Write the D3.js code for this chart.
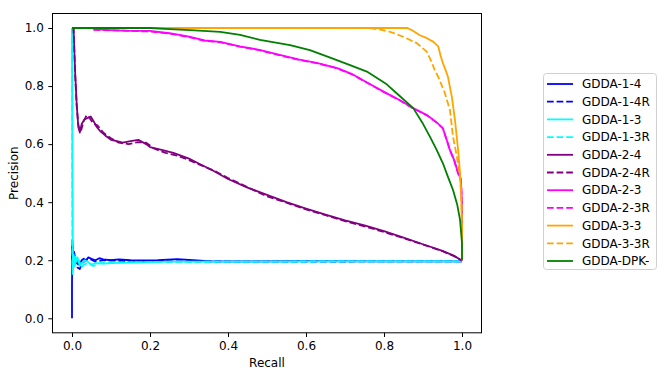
<!DOCTYPE html>
<html>
<head>
<meta charset="utf-8">
<script src="https://cdn.jsdelivr.net/npm/d3@7"></script>
<style>
  body { margin: 0; background: #fff; }
  svg { font-family: "DejaVu Sans", sans-serif; }
</style>
</head>
<body>
<div id="chart"></div>
<script>
// Series data: [recall, precision]
const gdda14 = [[0,0],[0,0.12],[0.001,0.27],[0.003,0.2],[0.005,0.23],[0.008,0.21],[0.012,0.2],[0.016,0.185],[0.02,0.19],[0.025,0.2],[0.03,0.205],[0.036,0.2],[0.042,0.21],[0.05,0.205],[0.06,0.2],[0.07,0.207],[0.08,0.203],[0.1,0.2],[0.12,0.203],[0.15,0.2],[0.18,0.199],[0.22,0.2],[0.27,0.204],[0.32,0.199],[0.36,0.196],[0.45,0.196],[0.6,0.197],[0.8,0.196],[1.0,0.196]];
const gdda14R = [[0,0.2],[0.001,0.25],[0.004,0.18],[0.008,0.2],[0.014,0.175],[0.02,0.17],[0.026,0.19],[0.035,0.2],[0.045,0.205],[0.06,0.195],[0.08,0.2],[0.12,0.198],[0.2,0.197],[0.3,0.196],[0.5,0.195],[0.8,0.196],[1.0,0.196]];
const gdda13 = [[0,1.0],[0.001,0.5],[0.002,0.17],[0.004,0.22],[0.007,0.18],[0.01,0.2],[0.014,0.21],[0.02,0.18],[0.026,0.19],[0.032,0.2],[0.04,0.195],[0.05,0.185],[0.06,0.19],[0.08,0.188],[0.1,0.19],[0.15,0.192],[0.25,0.195],[0.4,0.195],[0.7,0.196],[1.0,0.196]];
const gdda13R = [[0,1.0],[0.001,0.3],[0.002,0.15],[0.004,0.2],[0.008,0.22],[0.012,0.19],[0.018,0.2],[0.024,0.175],[0.03,0.185],[0.04,0.19],[0.055,0.18],[0.07,0.19],[0.1,0.192],[0.2,0.194],[0.4,0.195],[0.7,0.196],[1.0,0.196]];
const gdda24 = [[0,1.0],[0.004,1.0],[0.008,0.85],[0.012,0.74],[0.016,0.66],[0.02,0.64],[0.025,0.67],[0.032,0.685],[0.04,0.69],[0.048,0.695],[0.055,0.68],[0.063,0.66],[0.072,0.645],[0.085,0.63],[0.1,0.615],[0.115,0.61],[0.13,0.605],[0.15,0.61],[0.17,0.615],[0.19,0.6],[0.2,0.59],[0.23,0.58],[0.26,0.57],[0.3,0.55],[0.33,0.53],[0.36,0.51],[0.4,0.48],[0.45,0.45],[0.5,0.425],[0.55,0.4],[0.6,0.378],[0.65,0.357],[0.7,0.337],[0.75,0.32],[0.8,0.3],[0.85,0.278],[0.9,0.255],[0.95,0.232],[0.98,0.215],[1.0,0.198]];
const gdda24R = [[0,1.0],[0.004,1.0],[0.008,0.84],[0.012,0.73],[0.016,0.67],[0.02,0.645],[0.024,0.65],[0.03,0.68],[0.038,0.7],[0.045,0.69],[0.055,0.67],[0.065,0.665],[0.08,0.64],[0.1,0.62],[0.12,0.605],[0.145,0.6],[0.17,0.607],[0.19,0.605],[0.21,0.585],[0.24,0.57],[0.27,0.56],[0.3,0.545],[0.34,0.522],[0.37,0.505],[0.4,0.483],[0.45,0.452],[0.5,0.42],[0.55,0.398],[0.6,0.375],[0.65,0.355],[0.7,0.335],[0.75,0.317],[0.8,0.297],[0.85,0.276],[0.9,0.254],[0.95,0.231],[0.98,0.214],[1.0,0.198]];
const gdda23 = [[0.055,0.995],[0.1,0.993],[0.15,0.99],[0.2,0.99],[0.25,0.982],[0.3,0.97],[0.34,0.957],[0.38,0.952],[0.43,0.937],[0.48,0.925],[0.53,0.908],[0.58,0.892],[0.63,0.879],[0.68,0.862],[0.72,0.84],[0.76,0.81],[0.8,0.78],[0.84,0.752],[0.875,0.724],[0.91,0.7],[0.935,0.675],[0.951,0.655],[0.962,0.61],[0.969,0.58],[0.98,0.545],[0.99,0.5],[0.997,0.48],[1.0,0.4],[1.0,0.2]];
const gdda23R = [[0.055,0.994],[0.1,0.992],[0.15,0.99],[0.2,0.988],[0.25,0.981],[0.3,0.969],[0.34,0.956],[0.38,0.951],[0.43,0.936],[0.48,0.924],[0.53,0.907],[0.58,0.891],[0.63,0.878],[0.68,0.861],[0.72,0.839],[0.76,0.809],[0.8,0.779],[0.84,0.751],[0.875,0.723],[0.91,0.699],[0.935,0.674],[0.951,0.654],[0.962,0.609],[0.969,0.579],[0.98,0.544],[0.99,0.499],[0.997,0.479],[1.0,0.4],[1.0,0.2]];
const gdda33 = [[0,1],[0.86,1.0],[0.875,0.99],[0.892,0.975],[0.91,0.965],[0.926,0.953],[0.939,0.937],[0.945,0.905],[0.951,0.879],[0.958,0.855],[0.964,0.832],[0.97,0.79],[0.974,0.763],[0.982,0.683],[0.99,0.58],[0.995,0.5],[0.998,0.42],[1.0,0.3],[1.0,0.2]];
const gdda33R = [[0,1],[0.764,1.0],[0.797,0.993],[0.82,0.985],[0.849,0.97],[0.884,0.948],[0.91,0.918],[0.923,0.88],[0.93,0.855],[0.939,0.832],[0.956,0.776],[0.969,0.718],[0.977,0.625],[0.987,0.556],[0.995,0.487],[0.999,0.4],[1.0,0.3],[1.0,0.2]];
const gddaDPK = [[0,1],[0.2,1.0],[0.25,0.996],[0.303,0.993],[0.38,0.987],[0.431,0.976],[0.482,0.959],[0.559,0.941],[0.61,0.924],[0.662,0.898],[0.713,0.872],[0.756,0.85],[0.807,0.806],[0.841,0.765],[0.875,0.724],[0.9,0.67],[0.918,0.625],[0.935,0.58],[0.951,0.534],[0.964,0.487],[0.977,0.442],[0.988,0.39],[0.995,0.339],[1.0,0.26],[1.0,0.2]];

const seriesNames = ["GDDA-1-4","GDDA-1-4R","GDDA-1-3","GDDA-1-3R","GDDA-2-4","GDDA-2-4R","GDDA-2-3","GDDA-2-3R","GDDA-3-3","GDDA-3-3R","GDDA-DPK-"];
const seriesData = [gdda14, gdda14R, gdda13, gdda13R, gdda24, gdda24R, gdda23, gdda23R, gdda33, gdda33R, gddaDPK];
const seriesColors = ["#0000ff","#0000ff","#00ffff","#00ffff","#800080","#800080","#ff00ff","#ff00ff","#ffa500","#ffa500","#008000"];
const seriesDashed = [false,true,false,true,false,true,false,true,false,true,false];
const tickValues = [0, 0.2, 0.4, 0.6, 0.8, 1.0];

const W = 665, H = 378;
const plot = { left: 52.5, right: 481.5, top: 13.5, bottom: 332.8 };

const svg = d3.select("#chart").append("svg")
    .attr("width", W)
    .attr("height", H);

const x = d3.scaleLinear().domain([-0.05, 1.05]).range([plot.left, plot.right]);
const y = d3.scaleLinear().domain([-0.05, 1.05]).range([plot.bottom, plot.top]);

const line = d3.line()
    .x(d => x(d[0]))
    .y(d => y(d[1]));

// Curves
const curves = svg.append("g");
seriesData.forEach((data, i) => {
    curves.append("path")
        .datum(data)
        .attr("d", line)
        .attr("fill", "none")
        .attr("stroke", seriesColors[i])
        .attr("stroke-width", 1.8)
        .attr("stroke-linejoin", "round")
        .attr("stroke-dasharray", seriesDashed[i] ? "6.7,2.9" : null);
});

// Axes
const xAxis = d3.axisBottom(x).tickValues(tickValues).tickFormat(d3.format(".1f")).tickSize(4.2).tickPadding(4.5);
const yAxis = d3.axisLeft(y).tickValues(tickValues).tickFormat(d3.format(".1f")).tickSize(4.2).tickPadding(4.5);

const xg = svg.append("g").attr("transform", `translate(0,${plot.bottom})`).call(xAxis);
const yg = svg.append("g").attr("transform", `translate(${plot.left},0)`).call(yAxis);
[xg, yg].forEach(g => {
    g.select(".domain").remove();
    g.selectAll(".tick line").attr("stroke", "#000").attr("stroke-width", 1);
    g.selectAll("text").attr("fill", "#000").style("font-size", "12px").style("font-family", "DejaVu Sans");
});

// Frame
svg.append("rect")
    .attr("x", plot.left)
    .attr("y", plot.top)
    .attr("width", plot.right - plot.left)
    .attr("height", plot.bottom - plot.top)
    .attr("fill", "none")
    .attr("stroke", "#000")
    .attr("stroke-width", 1);

// Axis labels
svg.append("text")
    .attr("x", (plot.left + plot.right) / 2)
    .attr("y", 367)
    .attr("text-anchor", "middle")
    .style("font-size", "12px")
    .text("Recall");

svg.append("text")
    .attr("transform", `translate(18,${(plot.top + plot.bottom) / 2}) rotate(-90)`)
    .attr("text-anchor", "middle")
    .style("font-size", "12px")
    .text("Precision");

// Legend
const legend = svg.append("g");
legend.append("rect")
    .attr("x", 543.5)
    .attr("y", 73.5)
    .attr("width", 113)
    .attr("height", 196)
    .attr("rx", 3)
    .attr("fill", "#fff")
    .attr("fill-opacity", 0.8)
    .attr("stroke", "#d0d0d0")
    .attr("stroke-width", 1);

seriesNames.forEach((name, i) => {
    const ly = 84 + i * 17.7;
    legend.append("line")
        .attr("x1", 547).attr("x2", 573)
        .attr("y1", ly).attr("y2", ly)
        .attr("stroke", seriesColors[i])
        .attr("stroke-width", 1.8)
        .attr("stroke-dasharray", seriesDashed[i] ? "6.7,2.9" : null);
    legend.append("text")
        .attr("x", 582)
        .attr("y", ly)
        .attr("dy", "0.35em")
        .style("font-size", "12px")
        .text(name);
});
</script>
</body>
</html>
